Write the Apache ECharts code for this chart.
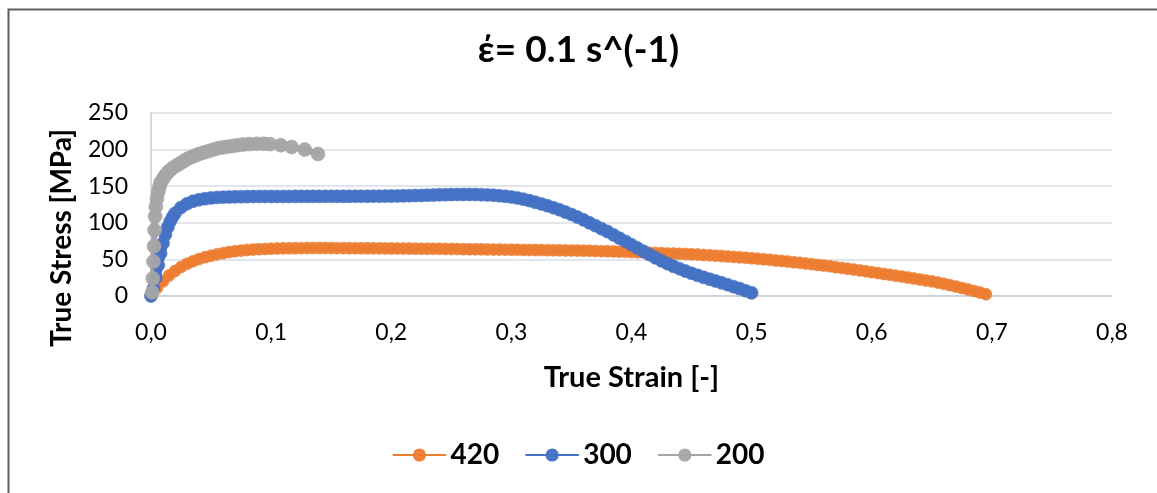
<!DOCTYPE html>
<html>
<head>
<meta charset="utf-8">
<script src="https://cdn.jsdelivr.net/npm/echarts@6/dist/echarts.min.js"></script>
<style>
  html, body { margin: 0; padding: 0; background: #ffffff; }
  #chart { width: 1157px; height: 493px; }
</style>
</head>
<body>
<div id="chart"></div>
<script>
// Flow curves at strain rate 0.1 1/s: [true strain, true stress in MPa]
const curve420 = [
  [0.000, 0], [0.005, 11], [0.010, 20], [0.015, 28], [0.020, 34], [0.025, 39.5],
  [0.030, 44], [0.035, 47.5], [0.040, 50.5], [0.045, 53], [0.050, 55], [0.055, 57],
  [0.060, 58.5], [0.065, 60], [0.070, 61], [0.075, 62], [0.080, 62.8], [0.085, 63.4],
  [0.090, 63.9], [0.095, 64.3], [0.100, 64.6], [0.105, 64.9], [0.110, 65.1], [0.115, 65.2],
  [0.120, 65.3], [0.125, 65.4], [0.130, 65.5], [0.135, 65.5], [0.140, 65.5], [0.145, 65.5],
  [0.150, 65.5], [0.155, 65.4], [0.160, 65.4], [0.165, 65.3], [0.170, 65.3], [0.175, 65.2],
  [0.180, 65.2], [0.185, 65.1], [0.190, 65.1], [0.195, 65.0], [0.200, 65.0], [0.205, 64.9],
  [0.210, 64.8], [0.215, 64.8], [0.220, 64.7], [0.225, 64.6], [0.230, 64.5], [0.235, 64.5],
  [0.240, 64.4], [0.245, 64.3], [0.250, 64.2], [0.255, 64.1], [0.260, 64.0], [0.265, 63.9],
  [0.270, 63.8], [0.275, 63.7], [0.280, 63.6], [0.285, 63.5], [0.290, 63.4], [0.295, 63.3],
  [0.300, 63.2], [0.305, 63.1], [0.310, 63.0], [0.315, 62.9], [0.320, 62.8], [0.325, 62.7],
  [0.330, 62.6], [0.335, 62.5], [0.340, 62.4], [0.345, 62.3], [0.350, 62.2], [0.355, 62.0],
  [0.360, 61.9], [0.365, 61.7], [0.370, 61.5], [0.375, 61.3], [0.380, 61.1], [0.385, 60.9],
  [0.390, 60.6], [0.395, 60.3], [0.400, 60.0], [0.405, 59.7], [0.410, 59.4], [0.415, 59.1],
  [0.420, 58.8], [0.425, 58.5], [0.430, 58.2], [0.435, 57.9], [0.440, 57.6], [0.445, 57.3],
  [0.450, 57.0], [0.455, 56.6], [0.460, 56.1], [0.465, 55.6], [0.470, 55.1], [0.475, 54.6],
  [0.480, 54.0], [0.485, 53.4], [0.490, 52.8], [0.495, 52.2], [0.500, 51.5], [0.505, 50.8],
  [0.510, 50.1], [0.515, 49.4], [0.520, 48.6], [0.525, 47.8], [0.530, 47.0], [0.535, 46.2],
  [0.540, 45.3], [0.545, 44.4], [0.550, 43.5], [0.555, 42.5], [0.560, 41.5], [0.565, 40.5],
  [0.570, 39.4], [0.575, 38.3], [0.580, 37.2], [0.585, 36.1], [0.590, 35.0], [0.595, 33.8],
  [0.600, 32.5], [0.605, 31.3], [0.610, 30.1], [0.615, 28.9], [0.620, 27.7], [0.625, 26.5],
  [0.630, 25.2], [0.635, 23.9], [0.640, 22.6], [0.645, 21.3], [0.650, 20.0], [0.655, 18.3],
  [0.660, 16.6], [0.665, 14.8], [0.670, 12.9], [0.675, 11.0], [0.680, 9.0], [0.685, 6.9],
  [0.690, 4.8], [0.695, 2.5]
];

const curve300 = [
  [0.000, 0], [0.002, 10], [0.004, 25], [0.006, 42], [0.008, 58], [0.010, 72],
  [0.012, 84], [0.014, 94], [0.016, 102], [0.018, 108], [0.020, 113], [0.025, 121],
  [0.030, 126], [0.035, 129.5], [0.040, 131.5], [0.045, 133], [0.050, 134], [0.055, 134.6],
  [0.060, 135], [0.065, 135.3], [0.070, 135.5], [0.075, 135.7], [0.080, 135.8], [0.085, 135.9],
  [0.090, 136], [0.095, 136], [0.100, 136], [0.105, 136], [0.110, 136], [0.115, 136],
  [0.120, 136.1], [0.125, 136.1], [0.130, 136.1], [0.135, 136.1], [0.140, 136.1], [0.145, 136.2],
  [0.150, 136.2], [0.155, 136.2], [0.160, 136.2], [0.165, 136.2], [0.170, 136.3], [0.175, 136.3],
  [0.180, 136.3], [0.185, 136.4], [0.190, 136.4], [0.195, 136.5], [0.200, 136.5], [0.205, 136.6],
  [0.210, 136.8], [0.215, 137.0], [0.220, 137.2], [0.225, 137.4], [0.230, 137.7], [0.235, 137.9],
  [0.240, 138.2], [0.245, 138.4], [0.250, 138.6], [0.255, 138.7], [0.260, 138.8], [0.265, 138.8],
  [0.270, 138.7], [0.275, 138.4], [0.280, 138.1], [0.285, 137.6], [0.290, 137.0], [0.295, 136.2],
  [0.300, 135.3], [0.305, 134.0], [0.310, 132.3], [0.315, 130.3], [0.320, 128.0], [0.325, 125.8],
  [0.330, 123.3], [0.335, 120.7], [0.340, 117.8], [0.345, 114.7], [0.350, 111.4], [0.355, 107.8],
  [0.360, 104.0], [0.365, 100.0], [0.370, 96.0], [0.375, 92.0], [0.380, 88.0], [0.385, 83.5],
  [0.390, 79.0], [0.395, 74.5], [0.400, 70.0], [0.405, 65.5], [0.410, 61.0], [0.415, 56.5],
  [0.420, 52.2], [0.425, 48.0], [0.430, 44.2], [0.435, 40.5], [0.440, 37.2], [0.445, 34.0],
  [0.450, 31.0], [0.455, 28.2], [0.460, 25.5], [0.465, 23.0], [0.470, 20.5], [0.475, 18.0],
  [0.480, 15.5], [0.485, 12.8], [0.490, 10.1], [0.495, 7.2], [0.500, 4.3]
];

const curve200 = [
  [0.0010, 5], [0.0015, 24], [0.0020, 47], [0.0025, 68], [0.0030, 90], [0.0035, 109],
  [0.0040, 122], [0.0050, 133], [0.0060, 142], [0.0070, 149], [0.0080, 155], [0.0100, 160],
  [0.0120, 165], [0.0140, 169], [0.0160, 172], [0.0190, 176], [0.0220, 179], [0.0250, 182],
  [0.0280, 185], [0.0310, 188], [0.0340, 190], [0.0370, 192], [0.0400, 194], [0.0440, 196],
  [0.0480, 198], [0.0520, 200], [0.0560, 202], [0.0600, 203], [0.0640, 204], [0.0680, 205],
  [0.0720, 206], [0.0770, 207], [0.0820, 207.5], [0.0880, 208], [0.0940, 208], [0.0990, 207.5],
  [0.1080, 206], [0.1170, 203.5], [0.1280, 200], [0.1390, 194]
];

const seriesNames = ['420', '300', '200'];
const seriesColors = ['#ED7D31', '#4472C4', '#A5A5A5'];
const xTicks = { min: 0, max: 0.8, step: 0.1 };
const yTicks = { min: 0, max: 250, step: 50 };

const FONT = 'Lato, "Open Sans", sans-serif';
const chart = echarts.init(document.getElementById('chart'), null, { renderer: 'canvas' });

// Each curve: markers on a thick same-coloured band so the dense points read as one stroke
function lineSeries(name, data, color, size, band) {
  return {
    name: name,
    type: 'line',
    data: data,
    symbol: 'circle',
    symbolSize: size,
    showSymbol: true,
    showAllSymbol: true,
    animation: false,
    lineStyle: { color: color, width: band, cap: 'round', join: 'round' },
    itemStyle: { color: color, borderColor: color, borderWidth: 0.6, opacity: 0.95 },
    emphasis: { disabled: true }
  };
}

chart.setOption({
  backgroundColor: '#ffffff',
  animation: false,
  title: {
    text: 'έ= 0.1 s^(-1)',
    left: 'center',
    top: 27,
    textStyle: { fontFamily: FONT, fontWeight: 'bold', fontSize: 37, color: '#000000' }
  },
  graphic: [{
    type: 'rect',
    left: 6, top: 7,
    shape: { width: 1170, height: 520 },
    style: { fill: 'none', stroke: '#5f5f5f', lineWidth: 2 },
    silent: true
  }, {
    type: 'text',
    x: 62, y: 238,
    rotation: Math.PI / 2,
    style: {
      text: 'True Stress [MPa]',
      fontFamily: FONT, fontWeight: 'bold', fontSize: 28, fill: '#000000',
      align: 'center', verticalAlign: 'middle'
    },
    silent: true
  }],
  legend: {
    data: seriesNames.map(n => ({ name: n })),
    bottom: 19,
    left: 'center',
    itemWidth: 52,
    itemHeight: 14,
    itemGap: 26,
    lineStyle: { width: 2 },
    textStyle: { fontFamily: FONT, fontWeight: 'bold', fontSize: 28, color: '#000000' }
  },
  grid: { left: 151, right: 45, top: 113, bottom: 197, containLabel: false },
  xAxis: {
    type: 'value',
    min: xTicks.min, max: xTicks.max, interval: xTicks.step,
    name: 'True Strain [-]',
    nameLocation: 'middle',
    nameGap: 67,
    nameTextStyle: { fontFamily: FONT, fontWeight: 'bold', fontSize: 29, color: '#000000' },
    axisLine: { show: true, lineStyle: { color: '#c5ccd8', width: 1.5 } },
    axisTick: { show: false },
    splitLine: { show: false },
    axisLabel: {
      fontFamily: FONT, fontSize: 23, color: '#000000', margin: 25,
      formatter: v => v.toFixed(1).replace('.', ',')
    }
  },
  yAxis: {
    type: 'value',
    min: yTicks.min, max: yTicks.max, interval: yTicks.step,
    axisLine: { show: true, lineStyle: { color: '#c5ccd8', width: 1.5 } },
    axisTick: { show: false },
    splitLine: { show: true, lineStyle: { color: '#d9dde5', width: 1.5 } },
    axisLabel: { fontFamily: FONT, fontSize: 23, color: '#000000', margin: 23 }
  },
  series: [
    lineSeries(seriesNames[0], curve420, seriesColors[0], 12, 7),
    lineSeries(seriesNames[1], curve300, seriesColors[1], 13, 10),
    lineSeries(seriesNames[2], curve200, seriesColors[2], 14, 6)
  ]
});
</script>
</body>
</html>
